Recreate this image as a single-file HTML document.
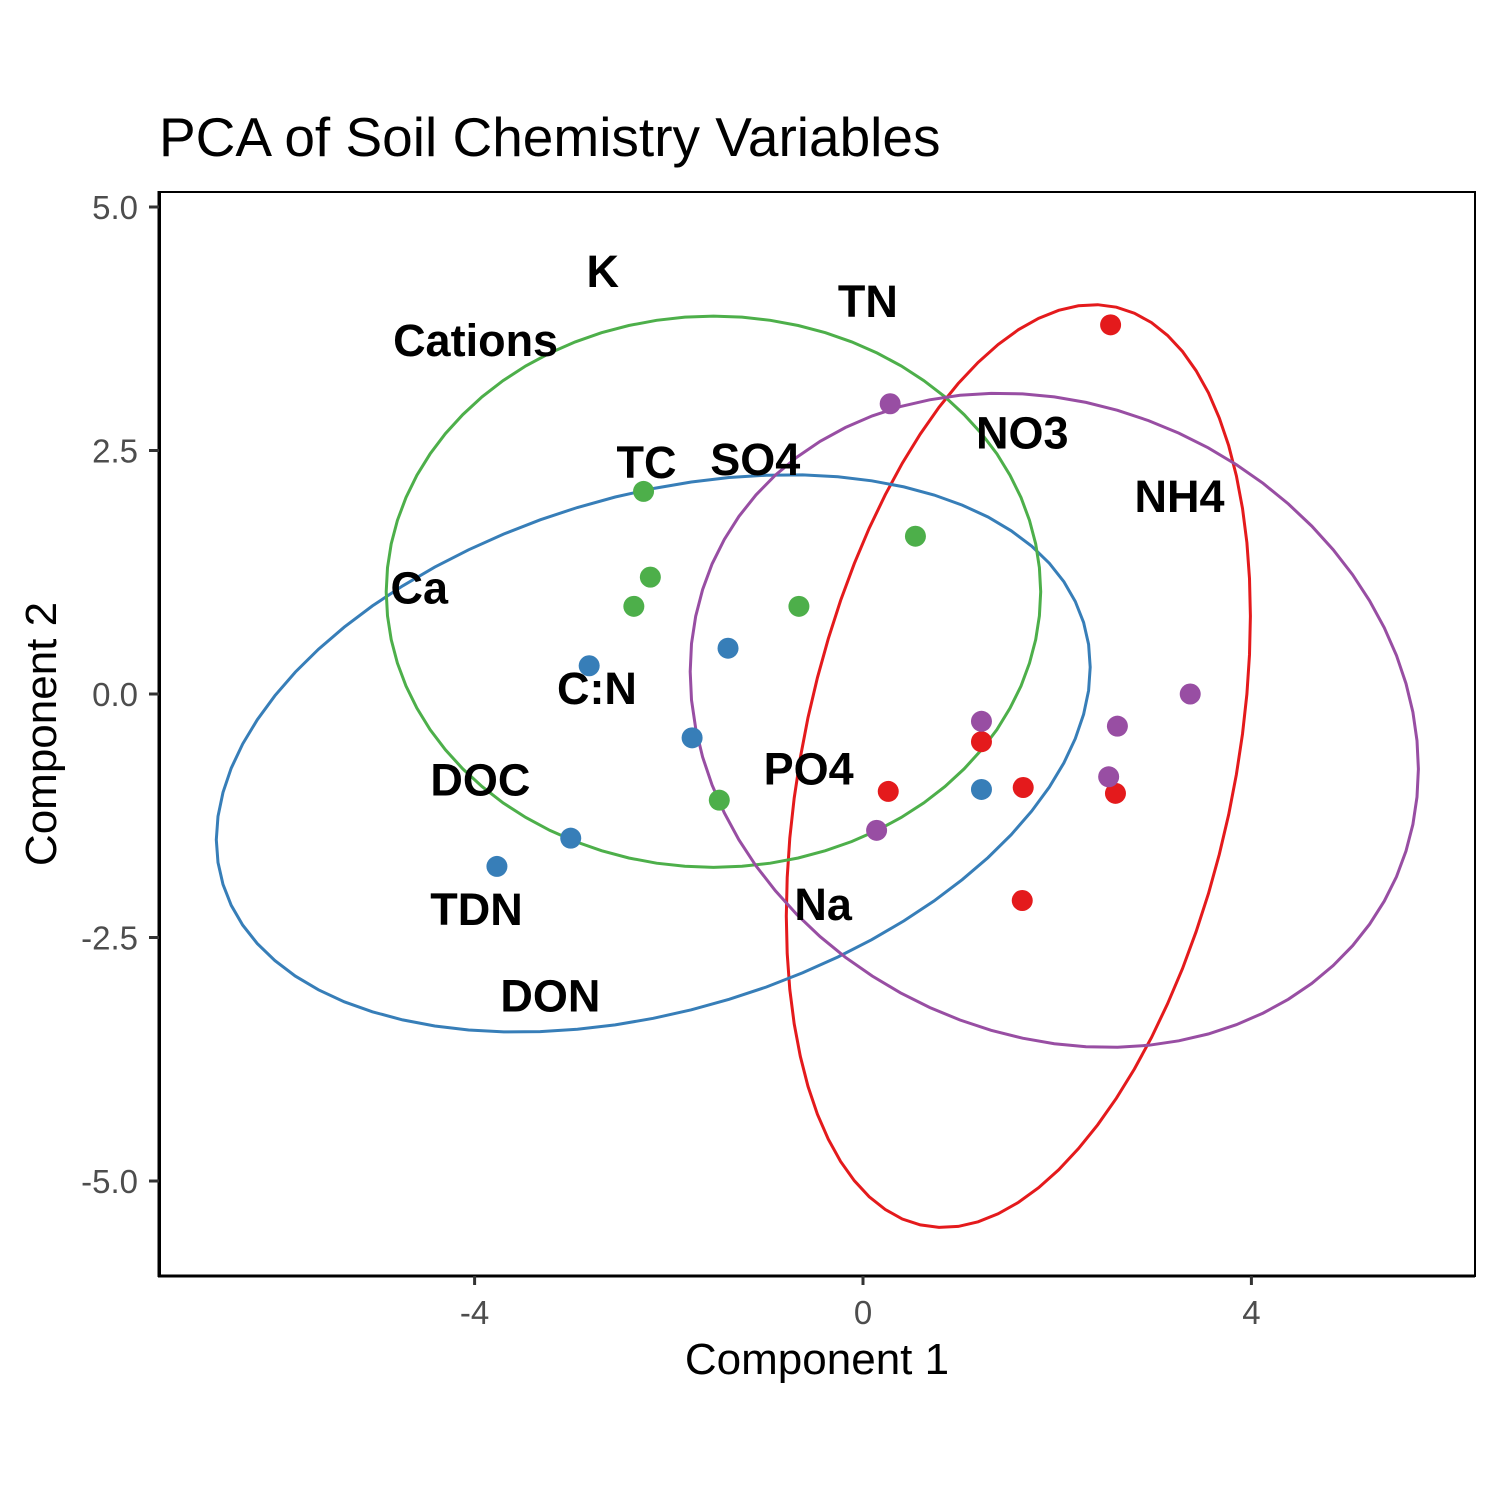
<!DOCTYPE html>
<html><head><meta charset="utf-8"><style>
html,body{margin:0;padding:0;background:#fff;}
svg{display:block;font-family:"Liberation Sans",Arial,sans-serif;}
</style></head><body>
<svg id="chart" width="1500" height="1500" viewBox="0 0 1500 1500">
<rect width="1500" height="1500" fill="#fff"/>
<text x="159" y="156" font-size="55" fill="#000">PCA of Soil Chemistry Variables</text>
<rect x="160" y="192" width="1315" height="1084" fill="none" stroke="#000" stroke-width="2"/>
<line x1="159" y1="191" x2="159" y2="1277" stroke="#000" stroke-width="3"/>
<line x1="158" y1="1276" x2="1475" y2="1276" stroke="#000" stroke-width="3"/>
<g id="ellipses"></g><g id="points"></g><g id="labels"></g><g id="axes"></g>
<text x="817" y="1374" font-size="44" text-anchor="middle">Component 1</text>
<text transform="translate(56,734) rotate(-90)" font-size="44" text-anchor="middle">Component 2</text>
</svg>
<script>
const groups=['red','blue','green','purple'];
const groupColors=['#E41A1C','#377EB8','#4DAF4A','#984EA3'];
const ptX={red:[2.55,1.22,1.65,2.60,0.26,1.64],blue:[-2.82,-1.39,-1.76,-3.01,-3.77,1.22],green:[-2.26,-2.19,-2.36,-0.66,0.54,-1.48],purple:[0.28,1.22,2.62,3.37,2.53,0.14]};
const ptY={red:[3.79,-0.49,-0.96,-1.02,-1.00,-2.12],blue:[0.29,0.47,-0.45,-1.48,-1.77,-0.98],green:[2.08,1.20,0.90,0.90,1.62,-1.09],purple:[2.98,-0.28,-0.33,0.00,-0.85,-1.40]};
// ellipse: center x, center y, a1, a2, b2 (data units)
const ellCx={red:1.60,blue:-2.16,green:-1.54,purple:1.97};
const ellCy={red:-0.74,blue:-0.61,green:1.05,purple:-0.27};
const ellA1={red:2.39,blue:4.50,green:3.37,purple:3.75};
const ellA2={red:1.54,blue:0.886,green:0,purple:-0.50};
const ellB2={red:4.48,blue:2.72,green:2.83,purple:3.32};
const labelText=['K','Cations','TN','NO3','NH4','TC','SO4','Ca','C:N','DOC','PO4','TDN','Na','DON'];
const labelX=[-2.68,-3.99,0.05,1.64,3.26,-2.23,-1.11,-4.57,-2.74,-3.94,-0.56,-3.98,-0.41,-3.22];
const labelY=[4.20,3.49,3.89,2.54,1.89,2.24,2.27,0.95,-0.08,-1.02,-0.91,-2.35,-2.30,-3.24];
const xTicks=[-4,0,4];
const yTicks=[5.0,2.5,0.0,-2.5,-5.0];
const sx=v=>863+v*97.1, sy=v=>694-v*97.4;
const NS='http://www.w3.org/2000/svg';
function mk(t,p,a){const e=document.createElementNS(NS,t);for(const k in a)e.setAttribute(k,a[k]);p.appendChild(e);return e;}
const gE=document.getElementById('ellipses'),gP=document.getElementById('points'),gL=document.getElementById('labels'),gA=document.getElementById('axes');
groups.forEach((g,i)=>{
  let d='';
  for(let k=0;k<=72;k++){const t=k/72*2*Math.PI;
    const x=ellCx[g]+ellA1[g]*Math.cos(t), y=ellCy[g]+ellA2[g]*Math.cos(t)+ellB2[g]*Math.sin(t);
    d+=(k?'L':'M')+sx(x).toFixed(1)+','+sy(y).toFixed(1);}
  const p=mk('path',gE,{d:d+'Z',fill:'none',stroke:groupColors[i],'stroke-width':3});
  
  
  ptX[g].forEach((v,j)=>{
    const c=mk('circle',gP,{cx:sx(v),cy:sy(ptY[g][j]),r:10.5,fill:groupColors[i]});
    
    
  });
});
labelText.forEach((s,i)=>{
  const t=mk('text',gL,{x:sx(labelX[i]),y:sy(labelY[i])+2,'font-size':45,'font-weight':'bold','text-anchor':'middle'});
  t.textContent=s;
  
  
});
xTicks.forEach(v=>{
  const l=mk('line',gA,{x1:sx(v),x2:sx(v),y1:1276,y2:1285,stroke:'#333','stroke-width':3});
  
  
  const t=mk('text',gA,{x:sx(v),y:1324,'font-size':33,fill:'#4d4d4d','text-anchor':'middle'});
  t.textContent=v;
  
  
});
yTicks.forEach(v=>{
  const l=mk('line',gA,{x1:149,x2:159,y1:sy(v),y2:sy(v),stroke:'#333','stroke-width':3});
  
  
  const t=mk('text',gA,{x:138,y:sy(v)+12,'font-size':33,fill:'#4d4d4d','text-anchor':'end'});
  t.textContent=v.toFixed(1);
  
  
});
</script>
</body></html>
